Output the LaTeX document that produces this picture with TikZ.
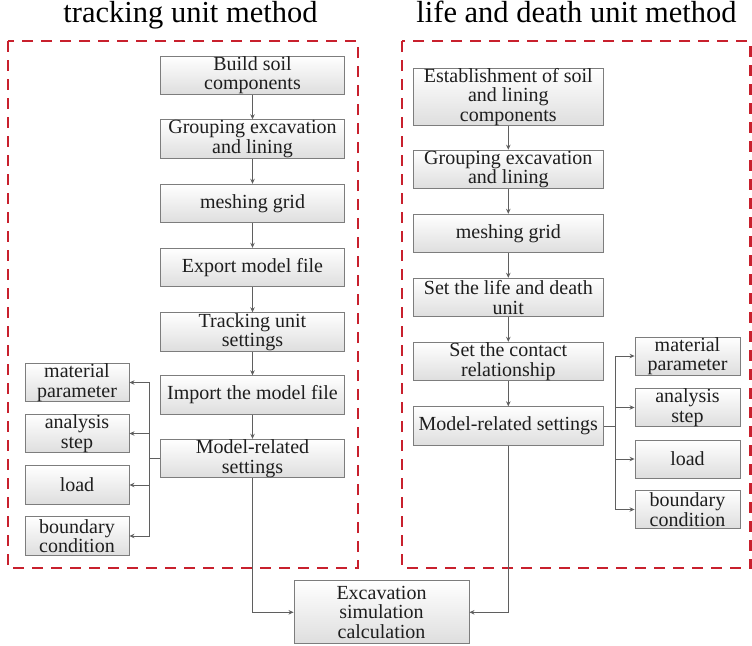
\documentclass[tikz,border=0pt]{standalone}
\usepackage{fontspec}
\setmainfont{Liberation Serif}
\usetikzlibrary{arrows.meta}
\definecolor{dashred}{RGB}{200,32,45}
\definecolor{boxline}{RGB}{125,125,125}
\definecolor{arrline}{RGB}{95,95,95}
\definecolor{txt}{RGB}{30,30,30}
\tikzset{
  pbox/.style={rectangle, draw=boxline, line width=0.9pt, top color=white, bottom color=black!13,
    inner sep=0pt, align=center, text=txt, font=\fontsize{20}{19.5}\selectfont},
  colL/.style={pbox, minimum width=183.5, minimum height=38.5},
  colR/.style={pbox, minimum width=190.5, minimum height=38.5},
  sideL/.style={pbox, minimum width=104, minimum height=38.5},
  sideR/.style={pbox, minimum width=105, minimum height=38},
  arr/.style={draw=arrline, line width=0.9pt, -{Stealth[length=5pt,width=4.5pt]}},
  frame/.style={draw=dashred, line width=2.5pt, dash pattern=on 11pt off 8pt},
  title/.style={font=\fontsize{30.5}{32}\selectfont, text=black, anchor=base}
}
\begin{document}
\begin{tikzpicture}[x=1pt,y=-1pt]
\useasboundingbox (0,0) rectangle (752,645);
% frames
\draw[frame] (8,41) rectangle (358,568);
\draw[frame] (402,41) rectangle (750.5,568);
% titles
\node[title] (tl) at (190.5,23) {tracking unit method};
\node[title] (tr) at (576.5,23) {life and death unit method};
% left column
\node[colL] (l1) at (252.5,75.3) {Build soil\\components};
\node[colL] (l2) at (252.5,139) {Grouping excavation\\and lining};
\node[colL] (l3) at (252.5,203.5) {meshing grid};
\node[colL] (l4) at (252.5,267.5) {Export model file};
\node[colL] (l5) at (252.5,332) {Tracking unit\\settings};
\node[colL] (l6) at (252.5,395) {Import the model file};
\node[colL] (l7) at (252.5,458.5) {Model-related\\settings};
% left side
\node[sideL] (la) at (77,382.5) {material\\parameter};
\node[sideL] (lb) at (77,433.5) {analysis\\step};
\node[sideL] (lc) at (77,485) {load};
\node[sideL] (ld) at (77,536) {boundary\\condition};
% right column
\node[colR, minimum height=56] (r1) at (508.3,97) {Establishment of soil\\and lining\\components};
\node[colR] (r2) at (508.3,169.4) {Grouping excavation\\and lining};
\node[colR] (r3) at (508.3,233.5) {meshing grid};
\node[colR] (r4) at (508.3,297.5) {Set the life and death\\unit};
\node[colR] (r5) at (508.3,361.5) {Set the contact\\relationship};
\node[colR] (r6) at (508.3,426) {Model-related settings};
% right side
\node[sideR] (ra) at (687.5,356) {material\\parameter};
\node[sideR] (rb) at (687.5,407.5) {analysis\\step};
\node[sideR] (rc) at (687.5,459) {load};
\node[sideR] (rd) at (687.5,509.5) {boundary\\condition};
% bottom
\node[pbox, minimum width=175, minimum height=63] (ex) at (381.5,612.3) {Excavation\\simulation\\calculation};
% column arrows
\foreach \a/\b in {l1/l2,l2/l3,l3/l4,l4/l5,l5/l6,l6/l7,r1/r2,r2/r3,r3/r4,r4/r5,r5/r6}
  \draw[arr] (\a.south) -- (\b.north);
% left branches
\coordinate (lj) at (149,458.5);
\draw[draw=arrline, line width=0.9pt] (l7.west) -- (lj);
\foreach \t in {la,lb,lc,ld}
  \draw[arr] (lj) |- (\t.east);
% right branches
\coordinate (rj) at (615,426);
\draw[draw=arrline, line width=0.9pt] (r6.east) -- (rj);
\foreach \t in {ra,rb,rc,rd}
  \draw[arr] (rj) |- (\t.west);
% to bottom
\draw[arr] (l7.south) |- (ex.west);
\draw[arr] (r6.south) |- (ex.east);
\end{tikzpicture}
\end{document}
